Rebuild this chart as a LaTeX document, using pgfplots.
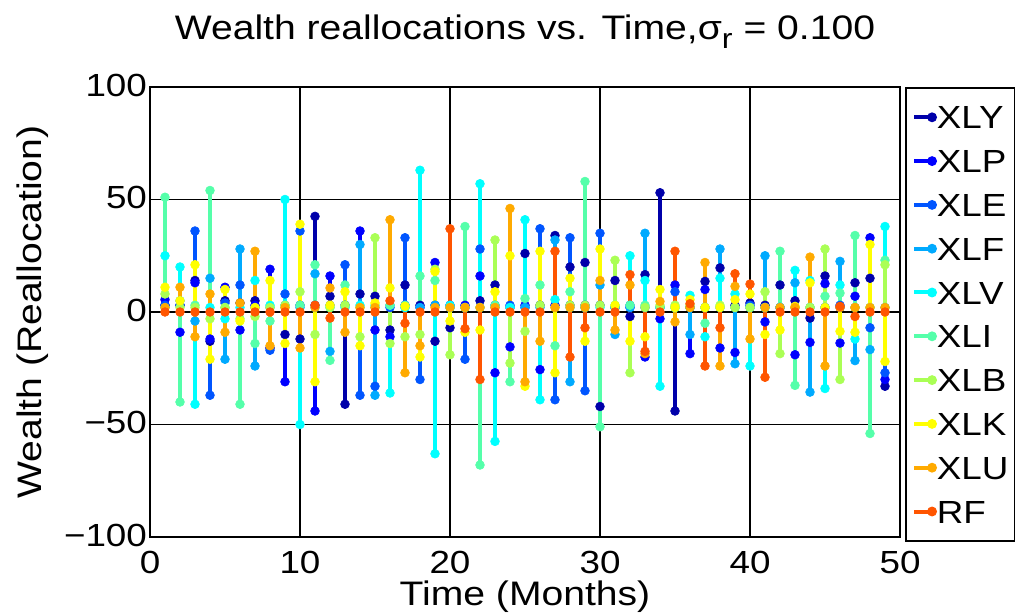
\documentclass[border=0pt]{standalone}
\usepackage{pgfplots}
\usepackage{pgfplotstable}
\pgfplotsset{compat=1.18}
\usepackage{fontspec}
\setmainfont{Liberation Sans}[FakeStretch=1.15]
\newcommand\f[1]{\fontsize{#1}{#1}\selectfont}
\definecolor{cXLY}{rgb}{0,0,0.6667}
\definecolor{cXLP}{rgb}{0,0,1}
\definecolor{cXLE}{rgb}{0,0.3333,1}
\definecolor{cXLF}{rgb}{0,0.6667,1}
\definecolor{cXLV}{rgb}{0,1,1}
\definecolor{cXLI}{rgb}{0.3333,1,0.6667}
\definecolor{cXLB}{rgb}{0.6667,1,0.3333}
\definecolor{cXLK}{rgb}{1,1,0}
\definecolor{cXLU}{rgb}{1,0.6667,0}
\definecolor{cRF}{rgb}{1,0.3333,0}
\pgfplotstableread{
m XLY XLP XLE XLF XLV XLI XLB XLK XLU RF
1 3 5.5 3 2 25 51 8 11 2 0
2 3 -9 3 5 20 -40 2 5 11 0
3 14 13 36 -4 -41 3 2 21 -11 0
4 -13 -12 -37 15 2 54 -3 -21 8 0
5 5 11 4 -21 -3 2 2 10 -9 0
6 4 -8 12 28 2 -41 -3 -4 4 0
7 5 3 2 -24 14 -14 -2 2 27 0
8 -16 19 -17 2 3 -4 2 14 -15 0
9 -10 -31 8 3 50 2 3 -14 2 0
10 -12 3 36 2 -50 3 9 39 -16 0
11 42.5 -44 3 17 2 21 -10 -31 2 3
12 7 16 3 -17.5 2 -21.5 2 3 10.7 -2.7
13 -41 3 21 3 2 12 3 9 -9 0
14 8 36 -37 30 3 2 -11 -15 2 0
15 7 -8 -33 -37 2 3 33 4 2 0
16 -8 -11 2 3 -36 3 -14 10.7 41 5
17 12 3 33 2 2 3 -11 2.5 -27 -5
18 3 2 -30 2 63 16 -10 -20 -15 0
19 -13 22 3 3 -63 14 19 18 2 0
20 -7 3 2 2 3 2 -19 -4 2 37
21 2 3 -21 2 2 38 2 -9 2 -7.4
22 5 16 28 2 57 -68 2 -8 2 -30
23 12 -27 3 2 -57.5 3 32 9 2 0
24 2 -15.5 3 2 2 -31 -22.7 25 46 0
25 26 3 2 2 41 6 -8.6 -33 -31 0
26 3 -25.6 37 2 -39 12 3 27 -13 0
27 34 3 -39 32 5.5 -15 2 -27 2 27
28 20 3 33 -31 2 9 3 15 2 -20
29 22 3 -35 2 2 58 3 -13 2 -7
30 -42 3 35 12 2 -51 3 28 14 0
31 14 2 2 -10 3 2 23 3 -8 0
32 -2 2 3 2 25 3 -27 -13 12 16.6
33 16.6 -20 2 35 14 3 2 -11 -18.5 -17.5
34 53 -3 2 2 -33 2 3 10 4.7 0
35 -44 12 9 2 2 2 3 2 -4.4 27
36 2 -18.5 2 -10 7.4 2 3 5.5 2 3.7
37 13.6 10 2 2 -11 -5 2 2 22 -24
38 19.6 -16 2 28 15 2 3 2 -24 -7
39 3 -18 2 -23 8 2 2 5.5 11.4 17
40 4 2 3 2 -24 2 2 8 -12 12.4
41 3 -4.4 2 25 2 2 9 -10 2 -29
42 12 2 2 2 2 27 -18.5 -8 2 0
43 5 -19 2 13 18.5 -32.6 2 2.5 2 0
44 -2.7 -13.5 2 -35.6 14 2 2 13 24.4 0
45 16 12.6 2 2 -34 7 28 2 -24 0
46 2 -13.8 3 22.5 12 8.4 -30 -8.6 2 2.5
47 13 7 2 -21.6 -12 34 2 -9 2 -2
48 15 33 -7 -16.7 2 -54 2 30 2 0
49 -33 -30 -27 2 38 23 21 -22 2 0
}\data
\begin{document}
\begin{tikzpicture}
\begin{axis}[
  scale only axis, width=375pt, height=225pt,
  xmin=0, xmax=50, ymin=-100, ymax=100,
  xtick={0,10,...,50}, ytick={-100,-50,0,50,100},
  yticklabels={−100,−50,0,50,100},
  xticklabels={0,10,20,30,40,50},
  major tick length=0pt,
  grid=major, grid style={black, line width=0.65pt},
  axis line style={black, line width=0.8pt},
  ticklabel style={font=\f{16}},
  xticklabel style={yshift=-3.5pt},
  yticklabel style={xshift=2pt, yshift=1pt},
  title={Wealth reallocations vs. Time,σ\raisebox{-0.45ex}{\f{14}r} = 0.100},
  title style={font=\f{17}, at={(axis description cs:0.5,1.0778)}, anchor=base},
  xlabel={Time (Months)},
  xlabel style={font=\f{17}, at={(axis description cs:0.5,-0.1533)}, anchor=base},
  ylabel={Wealth (Reallocation)},
  ylabel style={font=\f{17}, at={(axis description cs:-0.145,0.5)}, anchor=base},
  every axis plot/.append style={ycomb, line width=2pt, mark=*, mark size=2.2pt, mark options={solid, line width=0.3pt}},
  legend style={at={(1.007,1)}, anchor=north west, draw=black, line width=0.8pt,
    font=\f{16}, inner xsep=3pt, inner ysep=9pt, row sep=10.4pt,
    nodes={inner sep=0pt, text height=11.5pt, text depth=0pt},
    legend cell align=left},
  legend image code/.code={\draw[#1, line width=2pt] (0pt,0pt) -- (9pt,0pt); \fill[#1] (9pt,0pt) circle (1.4pt);},
]
\addplot[cXLY] table[x=m,y=XLY]{\data};
\addplot[cXLP] table[x=m,y=XLP]{\data};
\addplot[cXLE] table[x=m,y=XLE]{\data};
\addplot[cXLF] table[x=m,y=XLF]{\data};
\addplot[cXLV] table[x=m,y=XLV]{\data};
\addplot[cXLI] table[x=m,y=XLI]{\data};
\addplot[cXLB] table[x=m,y=XLB]{\data};
\addplot[cXLK] table[x=m,y=XLK]{\data};
\addplot[cXLU] table[x=m,y=XLU]{\data};
\addplot[cRF] table[x=m,y=RF]{\data};
\legend{XLY,XLP,XLE,XLF,XLV,XLI,XLB,XLK,XLU,RF}
\end{axis}
\pgfresetboundingbox
\path[use as bounding box] (current axis.south west) ++(-75pt,-39pt) rectangle ++(510pt,307.5pt);
\end{tikzpicture}
\end{document}
